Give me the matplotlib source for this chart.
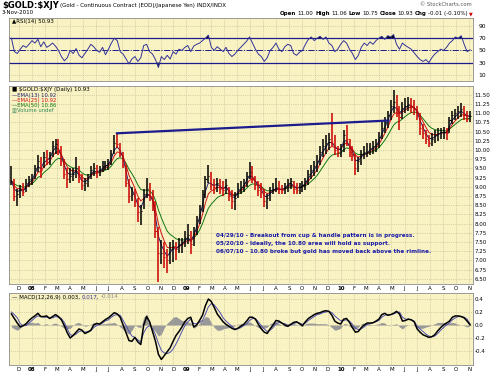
import numpy as np
import pandas as pd
import matplotlib
matplotlib.use('Agg')
import matplotlib.pyplot as plt

plt.rcParams['text.parse_math'] = False

W, H = 500, 374
BG = '#f9f3c4'
GRID = '#b8b090'
EDGE = '#8c8c8c'
NAVY = '#1c1c8c'

# weekly bars, mid-Nov 2007 .. 3-Nov-2010
highs = [9.55, 9.20, 8.95, 9.05, 9.10, 9.20, 9.30, 9.35, 9.60, 9.85,
         9.80, 9.95, 10.00, 9.95, 10.25, 10.30, 10.30, 10.10, 9.75, 9.50,
         9.50, 9.50, 9.80, 9.55, 9.35, 9.25, 9.35, 9.55, 9.65, 9.60,
         9.55, 9.70, 9.70, 9.75, 10.00, 10.40, 10.45, 10.20, 9.95, 9.60,
         9.20, 9.00, 8.95, 8.70, 8.50, 8.95, 9.23, 9.10, 8.90, 8.60,
         7.90, 7.55, 7.50, 7.30, 7.50, 7.55, 7.50, 7.60, 7.60, 7.80,
         8.00, 7.80, 7.90, 8.20, 8.50, 8.90, 9.30, 9.58, 9.40, 9.20,
         9.25, 9.20, 9.15, 9.20, 9.00, 8.90, 8.85, 9.10, 9.15, 9.20,
         9.40, 9.66, 9.55, 9.30, 9.15, 9.10, 8.95, 8.80, 9.00, 9.10,
         9.25, 9.15, 9.05, 9.10, 9.20, 9.25, 9.15, 9.10, 9.10, 9.15,
         9.25, 9.45, 9.60, 9.70, 9.85, 10.10, 10.30, 10.40, 10.45, 11.00,
         10.40, 10.10, 10.15, 10.55, 10.67, 10.30, 10.10, 9.90, 9.80, 10.00,
         10.10, 10.20, 10.20, 10.25, 10.30, 10.50, 10.75, 10.90, 11.05, 11.35,
         11.62, 11.50, 11.20, 11.30, 11.40, 11.44, 11.40, 11.35, 11.20, 11.00,
         10.70, 10.55, 10.40, 10.45, 10.55, 10.60, 10.60, 10.62, 10.60, 10.90,
         11.05, 11.10, 11.20, 11.27, 11.20, 11.05, 11.06]
lows = [9.05, 8.60, 8.47, 8.70, 8.75, 8.85, 9.00, 9.05, 9.20, 9.40,
        9.25, 9.50, 9.60, 9.60, 9.80, 9.90, 9.85, 9.55, 9.20, 8.96,
        9.10, 9.15, 9.25, 9.10, 8.90, 8.88, 9.00, 9.20, 9.30, 9.25,
        9.30, 9.40, 9.45, 9.45, 9.60, 9.90, 10.05, 9.80, 9.50, 9.00,
        8.57, 8.60, 8.45, 8.05, 7.95, 8.40, 8.70, 8.60, 8.35, 7.60,
        6.40, 6.90, 6.80, 6.66, 6.90, 6.95, 7.00, 7.20, 7.20, 7.35,
        7.45, 7.18, 7.40, 7.70, 8.00, 8.30, 8.70, 9.10, 8.90, 8.80,
        8.85, 8.80, 8.75, 8.80, 8.60, 8.40, 8.36, 8.70, 8.80, 8.85,
        9.00, 9.20, 9.10, 8.90, 8.75, 8.70, 8.45, 8.40, 8.60, 8.80,
        8.85, 8.80, 8.80, 8.80, 8.85, 8.95, 8.80, 8.80, 8.80, 8.85,
        8.90, 9.05, 9.20, 9.30, 9.40, 9.60, 9.80, 9.90, 10.00, 10.10,
        9.85, 9.80, 9.80, 9.95, 10.10, 9.80, 9.70, 9.31, 9.40, 9.60,
        9.75, 9.80, 9.85, 9.90, 9.95, 10.05, 10.30, 10.45, 10.60, 10.80,
        11.00, 10.90, 10.54, 10.85, 11.00, 11.05, 11.00, 10.95, 10.80, 10.40,
        10.30, 10.15, 10.07, 10.10, 10.20, 10.25, 10.30, 10.30, 10.26, 10.45,
        10.70, 10.80, 10.85, 10.90, 10.80, 10.75, 10.75]
closes = [9.15, 8.75, 8.80, 8.95, 8.85, 9.10, 9.20, 9.25, 9.50, 9.70,
          9.45, 9.80, 9.75, 9.85, 10.10, 10.15, 10.00, 9.70, 9.35, 9.20,
          9.30, 9.35, 9.50, 9.20, 9.05, 9.10, 9.25, 9.45, 9.50, 9.40,
          9.45, 9.55, 9.60, 9.65, 9.90, 10.20, 10.15, 9.90, 9.60, 9.10,
          8.75, 8.80, 8.60, 8.30, 8.35, 8.80, 8.95, 8.75, 8.50, 7.80,
          7.20, 7.20, 7.10, 7.00, 7.30, 7.40, 7.30, 7.45, 7.50, 7.60,
          7.70, 7.45, 7.80, 8.10, 8.40, 8.80, 9.20, 9.30, 9.05, 9.00,
          9.10, 8.95, 8.90, 9.05, 8.75, 8.60, 8.70, 8.95, 9.00, 9.10,
          9.30, 9.40, 9.25, 9.05, 8.90, 8.85, 8.60, 8.70, 8.90, 8.95,
          9.00, 8.95, 8.90, 9.00, 9.10, 9.15, 8.95, 8.90, 9.00, 9.05,
          9.15, 9.35, 9.45, 9.55, 9.70, 9.95, 10.10, 10.20, 10.30, 10.20,
          10.00, 9.95, 10.00, 10.40, 10.30, 9.95, 9.85, 9.50, 9.70, 9.90,
          9.95, 9.95, 10.05, 10.10, 10.15, 10.35, 10.60, 10.75, 10.95, 11.20,
          11.30, 11.10, 10.90, 11.15, 11.20, 11.25, 11.20, 11.10, 10.95, 10.60,
          10.45, 10.30, 10.20, 10.30, 10.40, 10.45, 10.50, 10.50, 10.45, 10.80,
          10.95, 11.00, 11.05, 11.10, 10.95, 10.85, 10.93]
rsi = [70, 48, 45, 52, 58, 55, 60, 66, 62, 68,
       56, 64, 55, 58, 62, 57, 50, 40, 33, 38,
       50, 45, 53, 42, 38, 45, 52, 60, 56, 50,
       47, 55, 43, 52, 62, 70, 66, 48, 44, 36,
       28, 36, 40, 32, 38, 58, 60, 48, 44, 35,
       22, 40, 35, 42, 36, 48, 44, 52, 50, 55,
       58, 48, 57, 60, 62, 66, 70, 75, 55, 50,
       56, 52, 48, 55, 45, 40, 44, 50, 55, 60,
       65, 72, 62, 52, 44, 40, 32, 38, 50, 55,
       62, 52, 48, 56, 60, 58, 45, 42, 47, 50,
       60, 68, 72, 66, 70, 73, 68, 72, 62, 58,
       48, 52, 60, 66, 62, 52, 45, 35, 42, 55,
       62, 58, 64, 60, 66, 70, 73, 68, 74, 72,
       76, 60, 52, 62, 58, 55, 52, 46, 40, 35,
       32, 35, 30, 38, 44, 48, 52, 50, 55, 62,
       66, 72, 70, 74, 60, 48, 50.93]
macd = [0.17, 0.10, 0.03, -0.03, -0.01, 0.02, 0.07, 0.11, 0.14, 0.18,
        0.13, 0.13, 0.14, 0.10, 0.13, 0.16, 0.13, 0.08, -0.01, -0.12,
        -0.20, -0.16, -0.11, -0.06, -0.08, -0.13, -0.11, -0.08, 0.00, 0.025,
        0.015, 0.05, 0.085, 0.11, 0.15, 0.19, 0.17, 0.12, 0.00, -0.12,
        -0.24, -0.25, -0.19, -0.26, -0.30, 0.00, 0.13, 0.05, -0.10, -0.25,
        -0.45, -0.53, -0.47, -0.41, -0.35, -0.25, -0.16, -0.10, -0.03, 0.05,
        0.10, 0.12, -0.03, 0.00, 0.07, 0.15, 0.30, 0.40, 0.36, 0.27,
        0.17, 0.11, 0.05, 0.01, -0.02, -0.05, -0.07, -0.05, -0.02, 0.01,
        0.06, 0.12, 0.12, 0.09, 0.01, -0.06, -0.11, -0.13, -0.06, 0.00,
        0.07, 0.06, 0.03, 0.00, -0.02, 0.01, 0.04, 0.05, 0.02, -0.01,
        0.05, 0.10, 0.13, 0.16, 0.18, 0.19, 0.21, 0.22, 0.21, 0.15,
        0.06, 0.03, 0.015, 0.09, 0.10, 0.04, -0.04, -0.11, -0.10, -0.04,
        0.00, 0.03, 0.03, 0.035, 0.06, 0.09, 0.16, 0.18, 0.15, 0.16,
        0.18, 0.21, 0.17, 0.06, 0.07, 0.09, 0.08, 0.05, -0.06, -0.11,
        -0.15, -0.17, -0.19, -0.18, -0.15, -0.09, -0.04, 0.00, 0.03, 0.06,
        0.12, 0.14, 0.14, 0.13, 0.11, 0.06, 0.003]
macd_hist = [-0.03, -0.06, -0.08, -0.05, 0.00, 0.03, 0.04, 0.04, 0.03, 0.04,
             0.00, 0.01, 0.02, -0.01, 0.02, 0.03, 0.01, -0.02, -0.05, -0.06,
             -0.05, 0.00, 0.03, 0.04, 0.01, -0.02, -0.01, 0.01, 0.04, 0.03,
             0.01, 0.02, 0.02, 0.03, 0.03, 0.04, 0.01, -0.03, -0.07, -0.11,
             -0.14, -0.08, 0.00, -0.03, -0.04, 0.12, 0.17, 0.06, -0.05, -0.10,
             -0.17, -0.14, -0.04, 0.03, 0.07, 0.12, 0.13, 0.10, 0.07, 0.06,
             0.05, 0.03, -0.05, -0.02, 0.03, 0.08, 0.13, 0.12, 0.03, -0.04,
             -0.08, -0.08, -0.06, -0.05, -0.04, -0.03, -0.01, 0.01, 0.02, 0.02,
             0.04, 0.05, 0.02, -0.01, -0.04, -0.05, -0.05, -0.03, 0.02, 0.04,
             0.05, 0.02, 0.00, -0.02, -0.02, 0.01, 0.02, 0.01, -0.01, -0.02,
             0.02, 0.03, 0.03, 0.03, 0.02, 0.02, 0.02, 0.02, 0.00, -0.04,
             -0.08, -0.07, -0.05, 0.02, 0.02, -0.02, -0.05, -0.06, -0.03, 0.02,
             0.03, 0.02, 0.01, 0.00, 0.01, 0.02, 0.04, 0.03, -0.01, 0.00,
             0.01, 0.02, -0.03, -0.06, -0.02, 0.00, 0.00, -0.01, -0.04, -0.05,
             -0.05, -0.03, -0.02, 0.00, 0.02, 0.04, 0.04, 0.04, 0.03, 0.03,
             0.04, 0.03, 0.01, 0.00, -0.01, -0.03, -0.014]

rim_dates = ['2008-07-18', '2010-04-27']
rim_values = [10.45, 10.80]
notes = ['04/29/10 - Breakout from cup & handle pattern is in progress.',
         '05/20/10 - Ideally, the 10.80 area will hold as support.',
         '06/07/10 - 10.80 broke but gold has moved back above the rimline.']
price_ticks = np.arange(6.5, 11.51, 0.25)
rsi_ticks = [10, 30, 50, 70, 90]
macd_ticks = [-0.4, -0.2, 0.0, 0.2, 0.4]

dates = pd.date_range('2007-11-14', '2010-11-03', periods=len(closes))
months = pd.date_range('2007-12-01', '2010-11-01', freq='MS')
month_labels = [d.strftime('%y') if d.month == 1 else d.strftime('%b')[0] for d in months]
xlim = (pd.Timestamp('2007-11-09'), pd.Timestamp('2010-11-10'))

fig = plt.figure(figsize=(W / 100, H / 100), dpi=100)
fig.patch.set_facecolor('white')


def panel(top, bottom):
    ax = fig.add_axes([9.3 / W, 1 - bottom / H, (473 - 9.3) / W, (bottom - top) / H])
    ax.set_facecolor(BG)
    ax.set_xlim(*xlim)
    ax.set_xticks(months)
    ax.grid(True, ls=':', lw=0.5, color=GRID)
    ax.yaxis.tick_right()
    ax.tick_params(length=0, labelsize=4.3, pad=4, labelbottom=False)
    for s in ax.spines.values():
        s.set_color(EDGE)
        s.set_linewidth(0.6)
    return ax


def put(x, y, s, **kw):
    kw.setdefault('fontsize', 4.3)
    kw.setdefault('va', 'center')
    return fig.text(x / W, 1 - y / H, s, **kw)


def run(x, y, pieces, gap=1.5):
    r = fig.canvas.get_renderer()
    for s, size, weight, color in pieces:
        t = put(x, y, s, fontsize=size, fontweight=weight, color=color)
        x += t.get_window_extent(renderer=r).width + gap


def month_axis(ax):
    ax.tick_params(labelbottom=True, pad=1.2, labelsize=4.0)
    ax.set_xticklabels(month_labels)
    for lbl in ax.get_xticklabels():
        if lbl.get_text().isdigit():
            lbl.set_fontweight('bold')


# RSI panel
ax_rsi = panel(18.3, 81)
rsi_arr = np.array(rsi, dtype=float)
ax_rsi.set_ylim(0, 102.5)
ax_rsi.set_yticks(rsi_ticks)
ax_rsi.axhline(70, color=NAVY, lw=0.9)
ax_rsi.axhline(30, color=NAVY, lw=0.9)
ax_rsi.axhline(50, color=NAVY, lw=0.7, ls='-.')
ax_rsi.fill_between(dates, rsi_arr, 70, where=rsi_arr > 70, interpolate=True, color='black', lw=0)
ax_rsi.fill_between(dates, rsi_arr, 30, where=rsi_arr < 30, interpolate=True, color='black', lw=0)
ax_rsi.plot(dates, rsi_arr, color='#333399', lw=0.7)

# price panel: EMAs underneath, bars on top
ax_p = panel(85.7, 284)
ax_p.set_ylim(6.356, 11.745)
ax_p.set_yticks(price_ticks)
ax_p.set_yticklabels([f'{v:.2f}' for v in price_ticks])
close_s = pd.Series(closes)
# daily EMA spans turned into weekly smoothing factors
for n, col in [(50, '#117711'), (25, '#cc1111'), (13, '#22226e')]:
    a = 1 - (1 - 2 / (n + 1)) ** 5
    ax_p.plot(dates, close_s.ewm(alpha=a, adjust=False).mean(), color=col, lw=0.7)
bar_col = ['#000000' if i == 0 or closes[i] >= closes[i - 1] else '#cc0000'
           for i in range(len(closes))]
ax_p.vlines(dates, lows, highs, colors=bar_col, lw=1.1)
ax_p.hlines(closes, dates, dates + pd.Timedelta(days=2.5), colors=bar_col, lw=0.8)
ax_p.plot(pd.to_datetime(rim_dates), rim_values, color=NAVY, lw=1.6, solid_capstyle='butt')
for i, line in enumerate(notes):
    put(216, 236 + 7.6 * i, line, fontsize=4.1, fontweight='bold', color='#1a1aa8')
month_axis(ax_p)

# MACD panel
ax_m = panel(292.7, 365)
ax_m.set_ylim(-0.615, 0.497)
ax_m.set_yticks(macd_ticks)
ax_m.set_yticklabels([f'{v:.1f}' for v in macd_ticks])
macd_arr = np.array(macd)
hist_arr = np.array(macd_hist)
ax_m.fill_between(dates, hist_arr, 0, color='#999999', lw=0)
ax_m.plot(dates, macd_arr - hist_arr, color='#5050b0', lw=0.7)
ax_m.plot(dates, macd_arr, color='black', lw=1.1)
month_axis(ax_m)

# header and legends
run(2, 5, [('$GOLD:$XJY', 6.0, 'bold', 'black'),
           ('(Gold - Continuous Contract (EOD)/Japanese Yen) INDX/INDX', 4.0, 'normal', 'black')])
put(2, 13, '3-Nov-2010', fontsize=4.0)
put(472, 5, '\u00a9 StockCharts.com', fontsize=3.8, color='#555555', ha='right')
run(280, 13.5, [('Open', 4.0, 'bold', 'black'), ('11.00', 4.0, 'normal', 'black'),
                ('High', 4.0, 'bold', 'black'), ('11.06', 4.0, 'normal', 'black'),
                ('Low', 4.0, 'bold', 'black'), ('10.75', 4.0, 'normal', 'black'),
                ('Close', 4.0, 'bold', 'black'), ('10.93', 4.0, 'normal', 'black'),
                ('Chg', 4.0, 'bold', 'black'), ('-0.01 (-0.10%)', 4.0, 'normal', 'black'),
                ('\u25bc', 3.5, 'normal', '#cc0000')])
put(12, 21, '\u25b2RSI(14) 50.93', fontsize=4.0)
put(12, 90, '\u25a0 $GOLD:$XJY (Daily) 10.93', fontsize=4.0)
put(12, 95.3, '\u2014EMA(13) 10.92', fontsize=3.8, color='#22226e')
put(12, 100.3, '\u2014EMA(25) 10.92', fontsize=3.8, color='#cc1111')
put(12, 105, '\u2014EMA(50) 10.86', fontsize=3.8, color='#117711')
put(12, 110, '\u25a5Volume undef', fontsize=3.8, color='#338855')
run(12, 297, [('\u2014 MACD(12,26,9) 0.003,', 4.0, 'normal', 'black'),
              ('0.017,', 4.0, 'normal', '#333399'),
              ('-0.014', 4.0, 'normal', '#888888')])

fig.savefig('out.png', dpi=100, facecolor='white')
